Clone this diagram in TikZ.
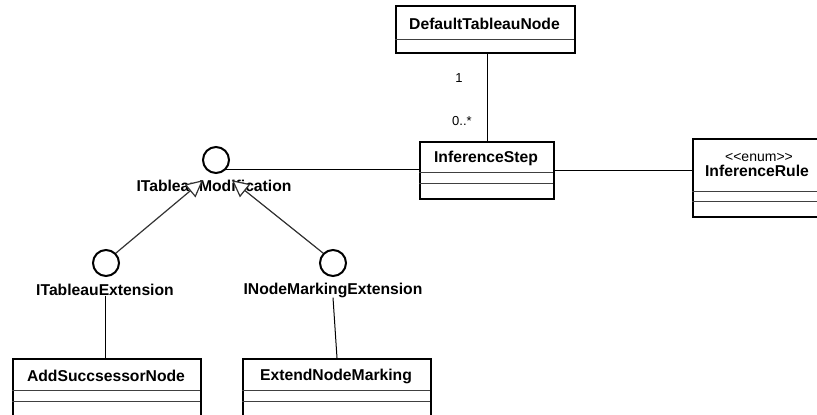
\documentclass[tikz,border=0pt]{standalone}
\usepackage{fontspec}
\setmainfont[Ligatures=NoCommon]{Liberation Sans}
\usetikzlibrary{calc}
\begin{document}
\begin{tikzpicture}[x=1pt,y=-1pt,
  cls/.style={draw=black, line width=2pt, inner sep=0pt, anchor=north west},
  divider/.style={draw=black!75, line width=1pt},
  title/.style={font=\bfseries\fontsize{15.7}{17}\selectfont, inner sep=0pt},
  stereo/.style={font=\fontsize{14}{16}\selectfont, inner sep=0pt},
  mult/.style={font=\fontsize{13}{15}\selectfont, inner sep=0pt},
  iface/.style={circle, draw=black, line width=2pt, minimum size=26pt, inner sep=0pt},
  conn/.style={draw=black, line width=1pt},
  genline/.style={draw=black!80, line width=1.2pt},
  genhead/.style={draw=black!80, fill=white, line width=1.2pt, line join=miter}
]
\useasboundingbox (0,0) rectangle (817,415);
\fill[white] (0,0) rectangle (817,415);
\clip (0,0) rectangle (817,415);

% classes
\node[cls, minimum width=179pt, minimum height=47pt] (dtn) at (395,5) {};
\draw[divider] (395,39) -- (574,39);
\node[title] (dtnt) at (484.5,24) {DefaultTableauNode};

\node[cls, minimum width=134pt, minimum height=57pt] (is) at (419,141) {};
\draw[divider] (419,172) -- (553,172);
\draw[divider] (419,183) -- (553,183);
\node[title] (ist) at (486,158) {InferenceStep};

\node[cls, minimum width=140pt, minimum height=78pt] (ir) at (692,138) {};
\draw[divider] (692,191) -- (832,191);
\draw[divider] (692,201) -- (832,201);
\node[stereo] (irs) at (759,157) {{<}{<}enum{>}{>}};
\node[title] (irt) at (757,171) {InferenceRule};

\node[cls, minimum width=188pt, minimum height=62pt] (asn) at (12,358) {};
\draw[divider] (12,390) -- (200,390);
\draw[divider] (12,401) -- (200,401);
\node[title] (asnt) at (106,376) {AddSuccsessorNode};

\node[cls, minimum width=188pt, minimum height=62pt] (enm) at (242,358) {};
\draw[divider] (242,390) -- (430,390);
\draw[divider] (242,401) -- (430,401);
\node[title] (enmt) at (336,376) {ExtendNodeMarking};

% interfaces
\node[iface] (itm) at (216,160) {};
\node[iface] (ite) at (106,263) {};
\node[iface] (inme) at (333,263) {};
\node[title] (itml) at (214,186) {ITableauModification};
\node[title] (itel) at (105,290) {ITableauExtension};
\node[title] (inmel) at (333,290) {INodeMarkingExtension};

% connectors
\draw[conn] (is.north) -- (is.north |- dtn.south);
\node[mult] (m1) at (459,78) {1};
\node[mult] (m2) at (462,121) {0..*};
\draw[conn] (is.east) -- (is.east -| ir.west);
\draw[conn] (itm.-45) -- (itm.-45 -| is.west);

% generalizations
\coordinate (tip1) at (202,181);
\coordinate (tip2) at (233,181);
\draw[genline] (ite.45) -- ($(tip1)!15pt!(ite.45)$);
\draw[genhead] (tip1) -- ($(tip1)!16.77pt!26.57:(ite.45)$) -- ($(tip1)!16.77pt!-26.57:(ite.45)$) -- cycle;
\draw[genline] (inme.135) -- ($(tip2)!15pt!(inme.135)$);
\draw[genhead] (tip2) -- ($(tip2)!16.77pt!26.57:(inme.135)$) -- ($(tip2)!16.77pt!-26.57:(inme.135)$) -- cycle;

\draw[conn] (itel.south) -- (itel.south |- asn.north);
\draw[conn] (inmel.south) -- (enm.north);
\end{tikzpicture}
\end{document}
